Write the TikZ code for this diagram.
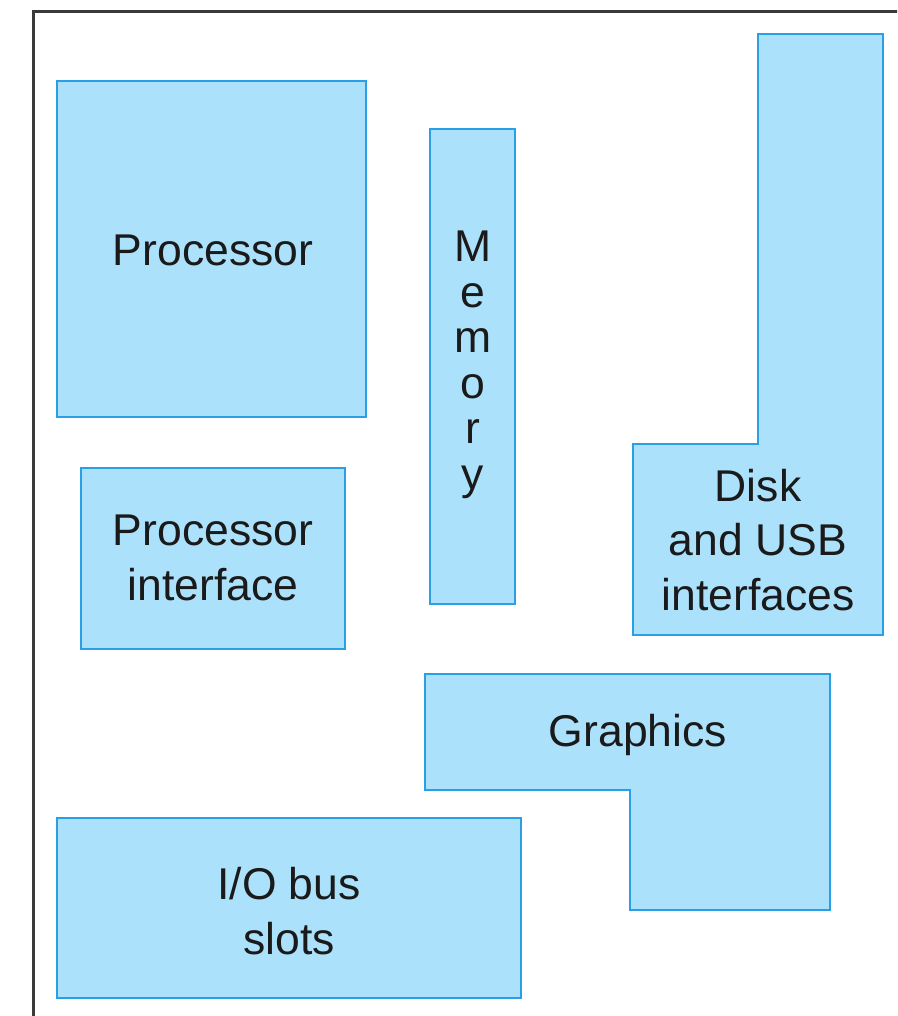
\documentclass[tikz,border=0pt]{standalone}
\usepackage{fontspec}
\setmainfont{Liberation Sans}
\definecolor{cfill}{HTML}{ABE1FB}
\definecolor{cedge}{HTML}{2A9FE6}
\definecolor{cframe}{HTML}{3A3A3A}
\definecolor{ctext}{HTML}{1A1A1A}
\tikzset{
  every picture/.style={x=1pt, y=-1pt},
  part/.style={draw=cedge, fill=cfill, line width=2pt, line join=miter},
  frame/.style={draw=cframe, line width=3pt},
  blocktext/.style={font=\fontsize{44.5}{54.5}\selectfont, text=ctext, align=center, inner sep=0pt},
  lettertext/.style={blocktext, font=\fontsize{44.5}{45.5}\selectfont},
}

\begin{document}
\begin{tikzpicture}
  \useasboundingbox (0,0) rectangle (897,1016);
  \clip (0,0) rectangle (897,1016);
  \fill[white] (0,0) rectangle (897,1016);
  % board outline
  \draw[frame] (33,12) rectangle (920,1040);
  % blocks on the board
  \draw[part] (57,81) rectangle (366,417);
  \draw[part] (81,468) rectangle (345,649);
  \draw[part] (430,129) rectangle (515,604);
  \draw[part] (758,34) -- (883,34) -- (883,635) -- (633,635) -- (633,444) -- (758,444) -- cycle;
  \draw[part] (425,674) -- (830,674) -- (830,910) -- (630,910) -- (630,790) -- (425,790) -- cycle;
  \draw[part] (57,818) rectangle (521,998);
  % labels
  \node[blocktext] (proc) at (213,250) {Processor};
  \node[blocktext] (procif) at (213,558) {Processor\\interface};
  \node[lettertext] (mem) at (473,365) {M\\e\\m\\o\\r\\y};
  \node[blocktext] (disk) at (758,540) {Disk\\and USB\\interfaces};
  \node[blocktext] (gfx) at (638,735) {Graphics};
  \node[blocktext] (iobus) at (289,911) {I/O bus\\slots};
\end{tikzpicture}
\end{document}
